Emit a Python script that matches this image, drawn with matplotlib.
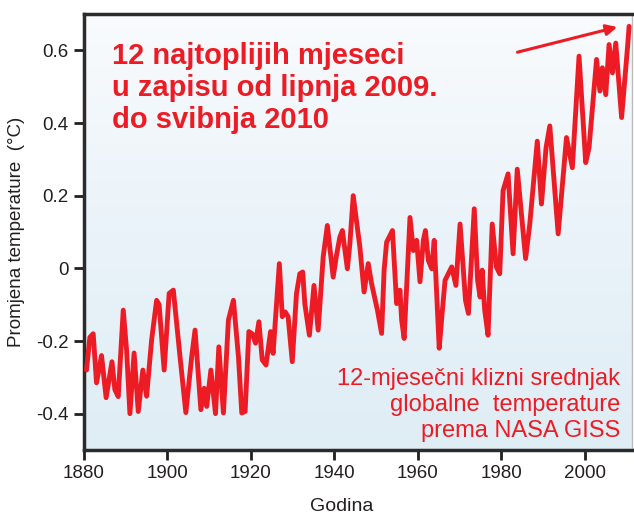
import matplotlib
matplotlib.use("Agg")
import matplotlib.pyplot as plt
from matplotlib.colors import LinearSegmentedColormap
import numpy as np

plt.rcParams['font.family'] = ['Liberation Sans', 'DejaVu Sans']

# 12-mjesečni klizni srednjak (očitano sa slike)
godine = [1880.6, 1881.4, 1882.2, 1883.0, 1884.2, 1885.3, 1886.1, 1886.7, 1887.4, 1888.2,
          1889.4, 1890.2, 1891.0, 1892.0, 1893.0, 1894.1, 1895.0, 1896.2, 1897.4, 1898.0,
          1899.2, 1900.4, 1901.4, 1903.0, 1904.4, 1905.8, 1906.6, 1908.0, 1908.8, 1909.4,
          1910.4, 1911.5, 1912.3, 1913.4, 1914.6, 1915.8, 1917.0, 1917.8, 1918.6, 1919.5,
          1920.3, 1921.1, 1921.9, 1922.7, 1923.6, 1924.7, 1925.3, 1926.8, 1927.5, 1928.2,
          1928.9, 1929.9, 1930.9, 1931.7, 1932.4, 1932.9, 1934.0, 1935.1, 1936.1, 1937.3,
          1938.3, 1939.7, 1940.5, 1941.3, 1941.9, 1943.1, 1943.7, 1944.5, 1946.1, 1947.1,
          1948.1, 1948.9, 1950.3, 1951.3, 1951.9, 1952.5, 1953.9, 1954.9, 1955.7, 1956.1,
          1956.7, 1958.1, 1958.9, 1959.7, 1960.5, 1961.3, 1961.8, 1962.5, 1963.3, 1963.9,
          1965.1, 1965.8, 1966.5, 1968.1, 1969.1, 1970.1, 1971.4, 1972.1, 1973.5, 1974.3,
          1974.9, 1975.4, 1976.0, 1976.8, 1977.8, 1978.8, 1979.6, 1980.4, 1981.6, 1982.8,
          1983.8, 1985.8, 1986.8, 1988.6, 1989.6, 1990.7, 1991.6, 1993.6, 1995.6, 1997.0,
          1998.6, 2000.2, 2001.0, 2002.8, 2003.6, 2004.2, 2005.0, 2005.8, 2006.6, 2007.4,
          2008.8, 2010.2, 2010.6]
anomalija = [-0.28, -0.19, -0.18, -0.315, -0.24, -0.356, -0.30, -0.257, -0.334, -0.353,
             -0.115, -0.225, -0.40, -0.233, -0.394, -0.28, -0.352, -0.197, -0.088, -0.10,
             -0.28, -0.069, -0.06, -0.243, -0.397, -0.243, -0.17, -0.389, -0.33, -0.38,
             -0.28, -0.40, -0.216, -0.398, -0.142, -0.088, -0.243, -0.398, -0.394, -0.174,
             -0.18, -0.206, -0.147, -0.252, -0.266, -0.174, -0.234, 0.013, -0.133, -0.12,
             -0.133, -0.257, -0.07, -0.015, -0.01, -0.097, -0.184, -0.047, -0.17, 0.031,
             0.118, -0.024, 0.036, 0.086, 0.104, -0.001, 0.068, 0.20, 0.058, -0.065,
             0.013, -0.042, -0.115, -0.179, -0.005, 0.072, 0.104, -0.097, -0.06, -0.142,
             -0.193, 0.14, 0.049, 0.077, -0.037, 0.077, 0.104, 0.022, -0.001, 0.077,
             -0.22, -0.124, -0.033, 0.004, -0.047, 0.122, -0.088, -0.124, 0.164, -0.033,
             -0.079, -0.005, -0.115, -0.184, 0.122, 0.004, -0.015, 0.214, 0.26, 0.04,
             0.273, 0.027, 0.122, 0.35, 0.177, 0.332, 0.392, 0.095, 0.36, 0.277,
             0.584, 0.291, 0.332, 0.575, 0.488, 0.552, 0.478, 0.616, 0.538, 0.62,
             0.415, 0.606, 0.666]

x_ticks = [1880, 1900, 1920, 1940, 1960, 1980, 2000]
y_ticks = [-0.4, -0.2, 0, 0.2, 0.4, 0.6]
y_labels = ['-0.4', '-0.2', '0', '0.2', '0.4', '0.6']

crvena = '#ed1c24'
siva = '#231f20'

fig = plt.figure(figsize=(6.34, 5.15), dpi=100)
ax = fig.add_axes([0.1325, 0.1262, 0.8644, 0.8466])
ax.set_xlim(1880, 2011.3)
ax.set_ylim(-0.5, 0.7)

# pozadina s prijelazom boje (bijelo -> svijetloplavo)
cmap = LinearSegmentedColormap.from_list('poz', ['#dfedf5', '#eaf3f9', '#f9fbfd'])
grad = np.linspace(0, 1, 256).reshape(-1, 1)
ax.imshow(grad, extent=[1880, 2011.3, -0.5, 0.7], origin='lower', aspect='auto',
          cmap=cmap, zorder=0)

ax.plot(godine, anomalija, color=crvena, linewidth=3.5, solid_joinstyle='round',
        solid_capstyle='round', zorder=3)

# strelica prema rekordnim mjesecima
ax.annotate('', xy=(2008.4, 0.666), xytext=(1983.2, 0.593),
            arrowprops=dict(arrowstyle='-|>', color=crvena, lw=2.2, mutation_scale=16))

ax.text(1886.6, 0.624, '12 najtoplijih mjeseci\nu zapisu od lipnja 2009.\ndo svibnja 2010',
        color=crvena, fontsize=21, fontweight='bold', va='top', ha='left', linespacing=1.18)
ax.text(2008.5, -0.477, '12-mjesečni klizni srednjak\nglobalne  temperature\nprema NASA GISS',
        color=crvena, fontsize=17, ha='right', va='bottom', linespacing=1.22)

ax.set_xticks(x_ticks)
ax.set_yticks(y_ticks)
ax.set_yticklabels(y_labels)
ax.tick_params(axis='both', direction='out', length=7, width=2, colors=siva,
               labelsize=13.5, pad=4)

for s in ['left', 'bottom', 'top']:
    ax.spines[s].set_color('#2b2b2b')
    ax.spines[s].set_linewidth(2.5)
ax.spines['right'].set_color('#bbbbbb')
ax.spines['right'].set_linewidth(1)

ax.set_xlabel('Godina', fontsize=14, color=siva, labelpad=10)
ax.xaxis.set_label_coords(0.47, -0.11)
ax.set_ylabel('Promjena temperature  (°C)', fontsize=13.5, color=siva, labelpad=8)

fig.savefig('out.png', dpi=100)
plt.close(fig)
